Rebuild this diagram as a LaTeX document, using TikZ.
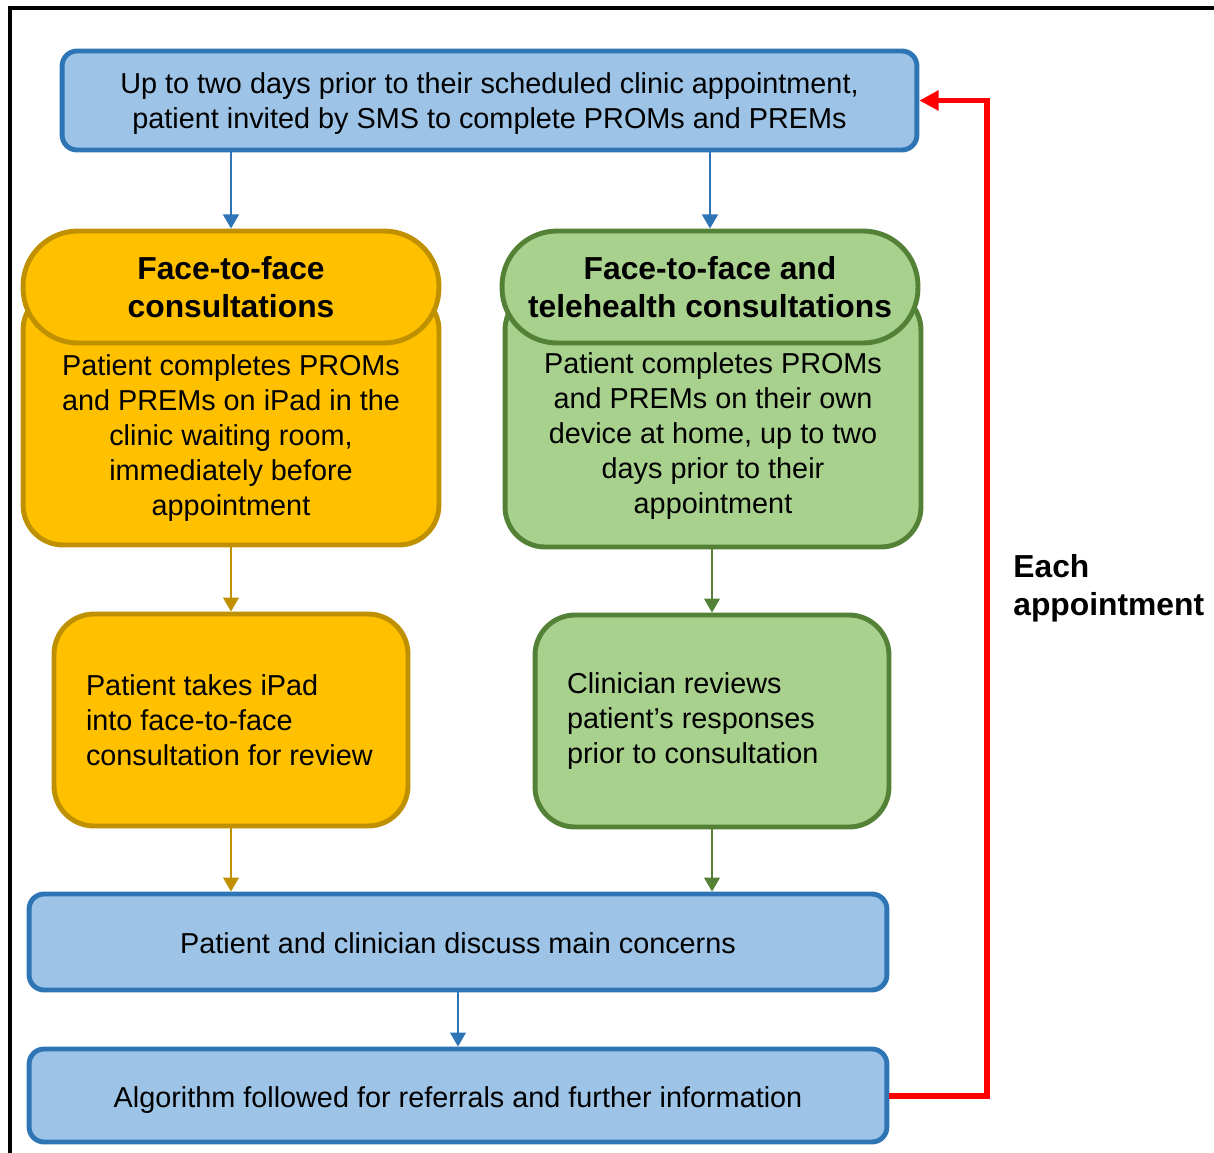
\documentclass[tikz,border=0pt]{standalone}
\usepackage{fontspec}
\setmainfont{Liberation Sans}
\usetikzlibrary{arrows.meta,positioning}

\definecolor{blfill}{HTML}{9DC3E6}
\definecolor{bldraw}{HTML}{2E75B6}
\definecolor{yefill}{HTML}{FFC000}
\definecolor{yedraw}{HTML}{BF9000}
\definecolor{grfill}{HTML}{A9D18E}
\definecolor{grdraw}{HTML}{538135}
\definecolor{loopred}{HTML}{FF0000}

\newcommand{\txtsize}{\fontsize{16.4}{19.8}\selectfont}
\newcommand{\hdsize}{\fontsize{18.1}{21.5}\selectfont\bfseries}

\tikzset{
	box/.style={line width=2.8pt, align=center, inner sep=0pt, font=\txtsize},
	bluebox/.style={box, fill=blfill, draw=bldraw, rounded corners=0.3cm},
	yebox/.style={box, fill=yefill, draw=yedraw, rounded corners=0.8cm},
	grbox/.style={box, fill=grfill, draw=grdraw, rounded corners=0.8cm},
	header/.style={minimum width=8.32cm, minimum height=2.24cm, rounded corners=1.1cm, font=\hdsize},
	smallbox/.style={minimum height=4.24cm, inner xsep=0.64cm, text width=5.8cm, align=flush left},
	conn/.style={-{Triangle[width=9pt,length=8pt]}, line width=1.1pt},
}

\begin{document}
\begin{tikzpicture}[x=0.02cm, y=-0.02cm]
	\useasboundingbox (0,0) rectangle (1214,1153);
	% frame
	\draw[line width=2.2pt] (10,1153) -- (10,8) -- (1214,8);

	% top box
	\node[bluebox, minimum width=17.1cm, minimum height=1.98cm, text depth=0pt] (top) at (489.5,100.5)
		{Up to two days prior to their scheduled clinic appointment,\\patient invited by SMS to complete PROMs and PREMs};

	% left column
	\node[yebox, minimum width=8.32cm, minimum height=5.1cm] (lbody) at (231,417.5) {};
	\node[font=\txtsize, align=center] (ltxt) at (231,438)
		{Patient completes PROMs\\and PREMs on iPad in the\\clinic waiting room,\\immediately before\\appointment};
	\node[yebox, header] (lhead) at (231,287) {Face-to-face\\consultations};
	\node[yebox, smallbox] (lbox) at (231,720) {Patient takes iPad\\into face-to-face\\consultation for review};

	% right column
	\node[grbox, minimum width=8.32cm, minimum height=5.14cm] (rbody) at (713,418.5) {};
	\node[font=\txtsize, align=center] (rtxt) at (713,436)
		{Patient completes PROMs\\and PREMs on their own\\device at home, up to two\\days prior to their\\appointment};
	\node[grbox, header] (rhead) at (710,287) {Face-to-face and\\telehealth consultations};
	\node[grbox, smallbox] (rbox) at (712,721) {Clinician reviews\\patient’s responses\\prior to consultation};

	% bottom boxes
	\node[bluebox, minimum width=17.16cm, minimum height=1.92cm, text height=2.4ex] (discuss) at (458,942)
		{Patient and clinician discuss main concerns};
	\node[bluebox, minimum width=17.16cm, minimum height=1.86cm, text height=3.3ex] (algo) at (458,1095.5)
		{Algorithm followed for referrals and further information};

	% loop label
	\node[font=\hdsize, align=left, anchor=west, inner sep=0pt] (each) at (1013,588) {Each\\appointment};

	% arrows
	\draw[conn, bldraw] (top.south -| lhead.north) -- (lhead.north);
	\draw[conn, bldraw] (top.south -| rhead.north) -- (rhead.north);
	\draw[conn, yedraw] (lbody.south) -- (lbox.north);
	\draw[conn, grdraw] (rbody.south -| rbox.north) -- (rbox.north);
	\draw[conn, yedraw] (lbox.south) -- (lbox.south |- discuss.north);
	\draw[conn, grdraw] (rbox.south) -- (rbox.south |- discuss.north);
	\draw[conn, bldraw] (discuss.south) -- (algo.north);

	% red loop back
	\draw[-{Triangle[width=11pt,length=11pt]}, line width=3.4pt, loopred]
		(algo.east) -| ([xshift=1.36cm]top.east) -- (top.east);
\end{tikzpicture}
\end{document}
